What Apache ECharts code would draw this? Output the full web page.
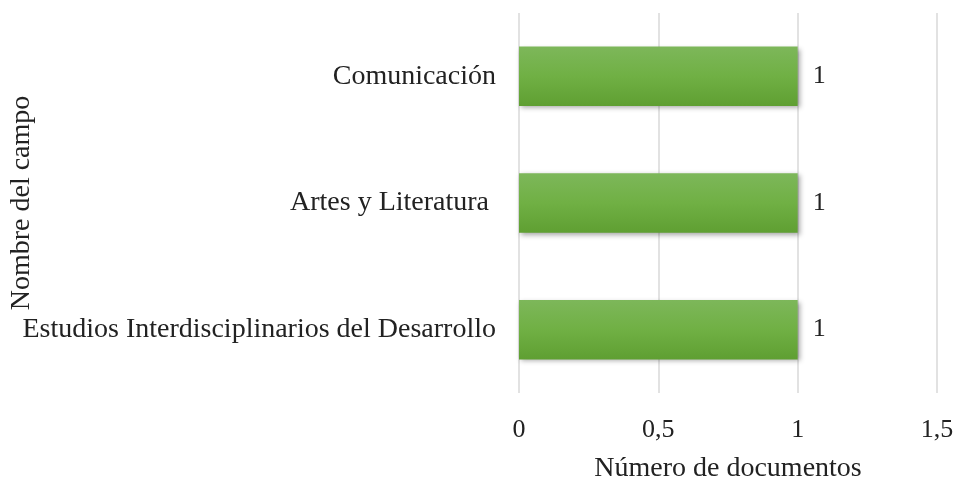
<!DOCTYPE html>
<html>
<head>
<meta charset="utf-8">
<script src="https://cdn.jsdelivr.net/npm/echarts@6/dist/echarts.min.js"></script>
<style>
  html, body { margin: 0; padding: 0; background: #fff; }
  #chart { width: 958px; height: 477px; }
</style>
</head>
<body>
<div id="chart"></div>
<script>
// data, bottom to top as in the picture
const categories = ['Estudios Interdisciplinarios del Desarrollo', 'Artes y Literatura ', 'Comunicación']
const documentCounts = [1, 1, 1]
const xTicks = [0, 0.5, 1, 1.5]

const font = '"Liberation Serif", "Times New Roman", serif'
const fs = 28
const chart = echarts.init(document.getElementById('chart'))

const opt = {
  animation: false,
  textStyle: { fontFamily: font },
  grid: { left: 519, right: 21, top: 13, bottom: 84, outerBoundsMode: 'none' },
  xAxis: {
    type: 'value',
    min: xTicks[0],
    max: xTicks[xTicks.length - 1],
    interval: 0.5,
    axisLine: { show: false },
    axisTick: { show: false },
    splitLine: { lineStyle: { color: '#d9d9d9', width: 1.5 } },
    axisLabel: {
      margin: 24,
      color: '#222',
      fontSize: 26,
      fontFamily: font,
      formatter: v => String(v).replace('.', ',')
    },
    name: 'Número de documentos',
    nameLocation: 'middle',
    nameGap: 62,
    nameMoveOverlap: false,
    nameTextStyle: { color: '#222', fontSize: fs, fontFamily: font, verticalAlign: 'top' }
  },
  yAxis: {
    type: 'category',
    data: categories,
    axisLine: { show: false },
    axisTick: { show: false },
    axisLabel: { margin: 23, color: '#222', fontSize: fs, fontFamily: font },
    name: 'Nombre del campo',
    nameLocation: 'middle',
    nameGap: 497,
    nameRotate: 90,
    nameMoveOverlap: false,
    nameTextStyle: { color: '#222', fontSize: fs, fontFamily: font, verticalAlign: 'middle' }
  },
  series: [{
    type: 'bar',
    data: documentCounts,
    barCategoryGap: '53%',
    itemStyle: {
      color: new echarts.graphic.LinearGradient(0, 0, 0, 1, [
        { offset: 0, color: '#7db75a' },
        { offset: 0.5, color: '#70b044' },
        { offset: 1, color: '#5f9f32' }
      ]),
      shadowColor: 'rgba(0,0,0,0.35)',
      shadowBlur: 5,
      shadowOffsetX: 2,
      shadowOffsetY: 2
    },
    label: {
      show: true,
      position: 'right',
      distance: 15,
      color: '#222',
      fontSize: 26,
      fontFamily: font
    }
  }]
}
chart.setOption(opt)
</script>
</body>
</html>
